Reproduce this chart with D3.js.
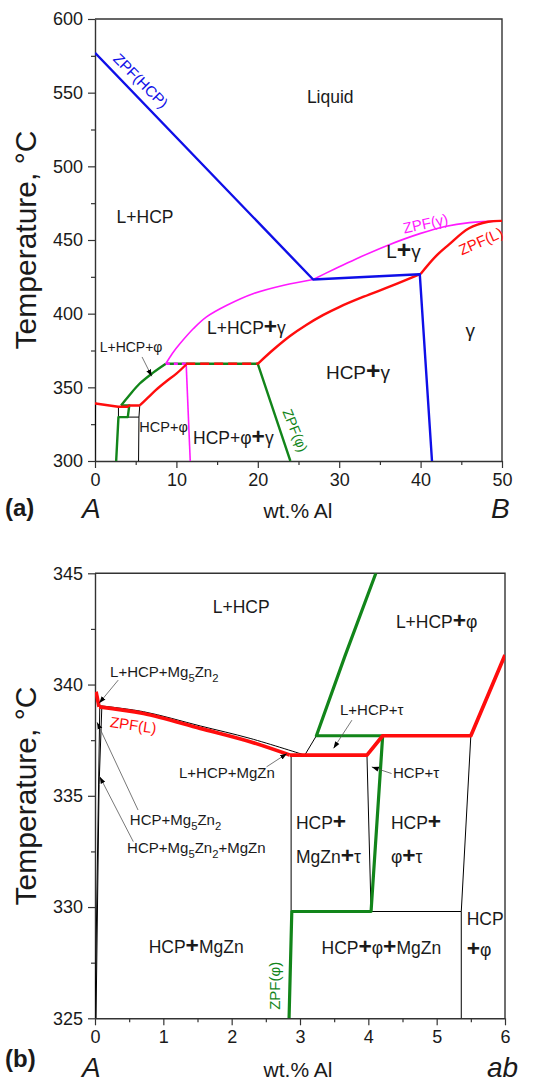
<!DOCTYPE html>
<html><head><meta charset="utf-8">
<script src="https://cdn.jsdelivr.net/npm/d3@7"></script>
<style>
html,body{margin:0;padding:0;background:#fff;}
svg{display:block;font-family:"Liberation Sans",Arial,Helvetica,sans-serif;}
</style></head><body>
<svg id="chart" width="541" height="1082"></svg>
<script>
// ---------- Panel (a): section A–B, 0–50 wt.% Al ----------
const aXTicks = [0, 10, 20, 30, 40, 50];
const aXMinor = [5, 15, 25, 35, 45];
const aYTicks = [300, 350, 400, 450, 500, 550, 600];
const aYMinor = [325, 375, 425, 475, 525, 575];

// ZPF(HCP) boundary (blue)
const aBlue = [[0, 577], [26.8, 423.2], [39.9, 426.8], [41.4, 300]];
// ZPF(gamma) boundaries (magenta)
const aMagLower = [[8.7, 366], [9.5, 373], [10.45, 379.7], [12.1, 389.9], [13.7, 397.8], [16.2, 405.7], [19.5, 413.7], [23.2, 419.3], [26.8, 423.2]];
const aMagUpper = [[26.8, 423.2], [29.5, 430.5], [32, 437], [36, 446.5], [40, 454.5], [43, 459.2], [46, 461.8], [50, 463]];
const aMagVert = [[11.2, 366], [11.7, 300]];
const aMagDash = [[8.7, 366], [11.2, 366]];
// ZPF(L) boundaries (red)
const aRedKinks = [[0, 339.6], [0.06, 339], [2.85, 336.8], [4.0, 336.8], [4.2, 337.7], [5.5, 337.7]];
const aRedRise = [[5.5, 337.7], [6.5, 343], [7.5, 348.3], [8.7, 353.8], [10, 359.3], [11.2, 365.5]];
const aRedDash = [[11.2, 366], [20, 366]];
const aRedUpper = [[20, 366], [22, 376], [24, 385], [26, 392.5], [28, 399], [30, 404.5], [33, 411.5], [36.5, 419], [40, 427]];
const aRedTop = [[40, 427], [41.8, 438.6], [43.4, 446.5], [45.9, 457.8], [48.3, 462.4], [50, 463]];
// ZPF(phi) boundaries (green)
const aGreenBox = [[2.6, 300], [2.88, 329.8], [4.03, 329.8], [4.21, 337.7], [3.2, 337.7]];
const aGreenCurve = [[3.2, 337.7], [4.2, 344.5], [5.5, 352.6], [7.1, 359.8], [8.7, 366]];
const aGreenFlat = [[8.7, 366], [20, 366], [24, 300]];
// thin phase boundaries (black)
const aBlack = [
  [[0.07, 339], [0, 300]],
  [[2.88, 336.8], [2.88, 329.8]],
  [[4.03, 329.8], [5.4, 329.8]],
  [[5.5, 337.7], [5.4, 329.8], [5.35, 300]]
];

// ---------- Panel (b): detail near A, 0–6 wt.% Al ----------
const bXTicks = [0, 1, 2, 3, 4, 5, 6];
const bXMinor = [0.5, 1.5, 2.5, 3.5, 4.5, 5.5];
const bYTicks = [325, 330, 335, 340, 345];
const bYMinor = [327.5, 332.5, 337.5, 342.5];

const bRedKink = [[0.015, 339.68], [0.06, 339.0]];
const bRedCurve = [[0.06, 339.0], [0.71, 338.7], [1.54, 338.03], [2.27, 337.43], [2.85, 336.83]];
const bRedSteps = [[2.85, 336.83], [3.98, 336.83], [4.21, 337.7], [5.5, 337.7], [6.0, 341.33]];
const bGreen = [[4.11, 345], [3.66, 341.3], [3.24, 337.7], [4.21, 337.7], [4.04, 329.8], [2.88, 329.8], [2.84, 325]];
const bBlackCurve = [[0.06, 339.05], [0.71, 338.78], [1.54, 338.14], [2.27, 337.58], [3.07, 336.83]];
const bBlack = [
  [[3.07, 336.83], [3.24, 337.7]],
  [[2.87, 336.83], [2.87, 329.8]],
  [[3.98, 336.83], [4.04, 329.8]],
  [[4.04, 329.8], [5.36, 329.8]],
  [[5.5, 337.7], [5.36, 329.8], [5.36, 325]],
  [[0.07, 339.0], [0.0, 325]],
  [[0.1, 339.0], [0.06, 335.5], [0.015, 325]]
];

// ---------- drawing ----------
const svg = d3.select("#chart");
const defs = svg.append("defs");
defs.append("marker").attr("id", "head")
  .attr("viewBox", "0 0 10 10").attr("refX", 10).attr("refY", 5)
  .attr("markerWidth", 7).attr("markerHeight", 7).attr("markerUnits", "userSpaceOnUse")
  .attr("orient", "auto")
  .append("path").attr("d", "M0,1.5 L10,5 L0,8.5 Z").attr("fill", "#000");

const COL = {blue: "#0f0fe8", mag: "#ff19ff", red: "#ff0d0d", green: "#12851a", ink: "#1a1a1a"};

// text with bold "+" ({+}) and subscripts (_5)
function rich(t, str, size) {
  const parts = str.split(/(\{\+\}|_\d)/).filter(s => s !== "");
  let lowered = false;
  parts.forEach(p => {
    let ts;
    if (p === "{+}") {
      ts = t.append("tspan").attr("font-weight", "bold").attr("font-size", size * 1.3).text("+");
    } else if (p[0] === "_") {
      ts = t.append("tspan").attr("font-size", size * 0.75).text(p[1]);
      if (!lowered) { ts.attr("dy", size * 0.32); lowered = true; }
      return;
    } else {
      ts = t.append("tspan").text(p);
    }
    if (lowered) { ts.attr("dy", -size * 0.32); lowered = false; }
  });
}

function panel(cfg) {
  const {x, y, xTicks, xMinor, yTicks, yMinor, id} = cfg;
  const [L, R] = x.range(), [B, T] = y.range();
  defs.append("clipPath").attr("id", id).append("rect")
    .attr("x", L).attr("y", T).attr("width", R - L).attr("height", B - T);
  const g = svg.append("g");

  const fmt = d3.format("d");
  g.append("g").attr("transform", `translate(${L},0)`)
    .call(d3.axisLeft(y).tickValues(yTicks).tickSize(7).tickPadding(5).tickFormat(fmt).tickSizeOuter(0));
  g.append("g").attr("transform", `translate(${L},0)`)
    .call(d3.axisLeft(y).tickValues(yMinor).tickSize(4).tickFormat("").tickSizeOuter(0))
    .select(".domain").remove();
  g.append("g").attr("transform", `translate(0,${B})`)
    .call(d3.axisBottom(x).tickValues(xTicks).tickSize(7).tickPadding(5).tickFormat(fmt).tickSizeOuter(0));
  g.append("g").attr("transform", `translate(0,${B})`)
    .call(d3.axisBottom(x).tickValues(xMinor).tickSize(4).tickFormat("").tickSizeOuter(0))
    .select(".domain").remove();
  g.selectAll(".domain").attr("stroke", "#333").attr("stroke-width", 1.4);
  g.selectAll(".tick line").attr("stroke", "#333").attr("stroke-width", 1.2);
  g.selectAll(".tick text").attr("font-size", 18).attr("fill", COL.ink)
    .attr("font-family", "Liberation Sans, Arial, sans-serif");

  // frame top and right
  g.append("path").attr("d", `M${L},${T}H${R}V${B}`).attr("fill", "none")
    .attr("stroke", "#333").attr("stroke-width", 1.4);

  const body = g.append("g").attr("clip-path", `url(#${id})`);
  return {g, body};
}

function drawLine(layer, x, y, pts, color, width, curve, dash) {
  const gen = d3.line().x(d => x(d[0])).y(d => y(d[1])).curve(curve || d3.curveLinear);
  const p = layer.append("path").attr("d", gen(pts)).attr("fill", "none")
    .attr("stroke", color).attr("stroke-width", width)
    .attr("stroke-linejoin", "round").attr("stroke-linecap", "butt");
  if (dash) p.attr("stroke-dasharray", dash);
  return p;
}

function label(layer, px, py, str, opt) {
  const o = Object.assign({size: 17.5, anchor: "middle", color: COL.ink, rot: 0, weight: "normal", style: "normal"}, opt || {});
  const t = layer.append("text")
    .attr("transform", `translate(${px},${py}) rotate(${o.rot})`)
    .attr("text-anchor", o.anchor).attr("dy", "0.35em")
    .attr("font-size", o.size).attr("fill", o.color)
    .attr("font-weight", o.weight).attr("font-style", o.style);
  rich(t, str, o.size);
  return t;
}

function pointer(layer, x, y, from, to) {
  layer.append("line")
    .attr("x1", x(from[0])).attr("y1", y(from[1]))
    .attr("x2", x(to[0])).attr("y2", y(to[1]))
    .attr("stroke", "#555").attr("stroke-width", 0.8)
    .attr("marker-end", "url(#head)");
}

const curve = d3.curveCatmullRom.alpha(0.5);

// ===== Panel (a) =====
const xA = d3.scaleLinear().domain([0, 50]).range([95, 502]);
const yA = d3.scaleLinear().domain([300, 600]).range([461, 19]);
const A = panel({x: xA, y: yA, xTicks: aXTicks, xMinor: aXMinor, yTicks: aYTicks, yMinor: aYMinor, id: "clipA"});
{
  const b = A.body;
  aBlack.forEach(s => drawLine(b, xA, yA, s, "#000", 1));
  drawLine(b, xA, yA, aGreenBox, COL.green, 2.4);
  drawLine(b, xA, yA, aGreenCurve, COL.green, 2.4, curve);
  drawLine(b, xA, yA, aGreenFlat, COL.green, 2.4);
  drawLine(b, xA, yA, aMagLower, COL.mag, 1.6, curve);
  drawLine(b, xA, yA, aMagUpper, COL.mag, 1.6, curve);
  drawLine(b, xA, yA, aMagVert, COL.mag, 1.6);
  drawLine(b, xA, yA, aMagDash, COL.mag, 2.4, null, "4,4");
  drawLine(b, xA, yA, aRedKinks, COL.red, 2.4);
  drawLine(b, xA, yA, aRedRise, COL.red, 2.4, curve);
  drawLine(b, xA, yA, aRedDash, COL.red, 2.4, null, "9,5");
  drawLine(b, xA, yA, aRedUpper, COL.red, 2.4, curve);
  drawLine(b, xA, yA, aRedTop, COL.red, 2.4, curve);
  drawLine(b, xA, yA, aBlue, COL.blue, 2.4);

  const t = A.g;
  label(t, xA(28.9), yA(547.2), "Liquid");
  label(t, xA(6.15), yA(465.7), "L+HCP");
  label(t, xA(37.9), yA(442.4), "L{+}γ", {size: 19});
  label(t, xA(46.1), yA(388.8), "γ", {size: 19});
  label(t, xA(18.6), yA(390.1), "L+HCP{+}γ");
  label(t, xA(32.3), yA(360.4), "HCP{+}γ", {size: 19});
  label(t, xA(4.43), yA(377.4), "L+HCP+φ", {size: 14});
  label(t, xA(8.42), yA(323.1), "HCP+φ", {size: 14.5});
  label(t, xA(17.0), yA(315.4), "HCP+φ{+}γ");
  label(t, xA(24.6), yA(320.8), "ZPF(φ)", {size: 14, color: COL.green, rot: 68});
  label(t, xA(5.62), yA(558.1), "ZPF(HCP)", {size: 15, color: COL.blue, rot: 45});
  label(t, xA(40.6), yA(461.2), "ZPF(γ)", {size: 15, color: COL.mag, rot: -12});
  label(t, xA(47.4), yA(449.2), "ZPF(L)", {size: 15, color: COL.red, rot: -24});
  pointer(t, xA, yA, [5.78, 370.6], [6.97, 357.5]);
}

// ===== Panel (b) =====
const xB = d3.scaleLinear().domain([0, 6]).range([95, 505]);
const yB = d3.scaleLinear().domain([325, 345]).range([1018.3, 573.3]);
const Bp = panel({x: xB, y: yB, xTicks: bXTicks, xMinor: bXMinor, yTicks: bYTicks, yMinor: bYMinor, id: "clipB"});
{
  const b = Bp.body;
  bBlack.forEach(s => drawLine(b, xB, yB, s, "#000", 1));
  drawLine(b, xB, yB, bBlackCurve, "#000", 1, curve);
  drawLine(b, xB, yB, bGreen, COL.green, 3.2);
  drawLine(b, xB, yB, bRedKink, COL.red, 3.7);
  drawLine(b, xB, yB, bRedCurve, COL.red, 3.7, curve);
  drawLine(b, xB, yB, bRedSteps, COL.red, 3.7);

  const t = Bp.g;
  label(t, xB(2.14), yB(343.5), "L+HCP");
  label(t, xB(5.0), yB(342.82), "L+HCP{+}φ");
  label(t, xB(0.22), yB(340.58), "L+HCP+Mg_5Zn_2", {size: 15, anchor: "start"});
  label(t, xB(0.56), yB(338.18), "ZPF(L)", {size: 15, color: COL.red, rot: 8});
  label(t, xB(4.05), yB(338.86), "L+HCP+τ", {size: 15});
  label(t, xB(1.93), yB(336.02), "L+HCP+MgZn", {size: 15});
  label(t, xB(4.36), yB(336.02), "HCP+τ", {size: 15, anchor: "start"});
  label(t, xB(0.51), yB(333.91), "HCP+Mg_5Zn_2", {size: 15, anchor: "start"});
  label(t, xB(0.47), yB(332.65), "HCP+Mg_5Zn_2+MgZn", {size: 15, anchor: "start"});
  label(t, xB(2.94), yB(333.78), "HCP{+}", {anchor: "start"});
  label(t, xB(2.94), yB(332.25), "MgZn{+}τ", {anchor: "start"});
  label(t, xB(4.33), yB(333.78), "HCP{+}", {anchor: "start"});
  label(t, xB(4.33), yB(332.25), "φ{+}τ", {anchor: "start"});
  label(t, xB(1.48), yB(328.2), "HCP{+}MgZn");
  label(t, xB(4.19), yB(328.16), "HCP{+}φ{+}MgZn");
  label(t, xB(5.44), yB(329.46), "HCP", {anchor: "start"});
  label(t, xB(5.44), yB(328.07), "{+}φ", {anchor: "start"});
  label(t, xB(2.63), yB(326.46), "ZPF(φ)", {size: 15, color: COL.green, rot: -90});

  pointer(t, xB, yB, [0.34, 340.2], [0.06, 339.16]);
  pointer(t, xB, yB, [0.63, 334.36], [0.03, 338.3]);
  pointer(t, xB, yB, [0.56, 332.94], [0.07, 335.86]);
  pointer(t, xB, yB, [2.51, 336.3], [2.81, 336.9]);
  pointer(t, xB, yB, [3.76, 338.4], [3.49, 337.13]);
  pointer(t, xB, yB, [4.34, 336.0], [4.05, 336.3]);
}

// ===== axis titles and panel captions =====
function title(px, py) {
  svg.append("text").attr("transform", `translate(${px},${py}) rotate(-90)`)
    .attr("text-anchor", "middle").attr("font-size", 30).attr("fill", COL.ink)
    .text("Temperature, °C");
}
title(36, 240);
title(36, 796);

function caption(baseA, baseB, tag, endLabel) {
  svg.append("text").attr("x", 5).attr("y", baseA).attr("font-size", 24)
    .attr("font-weight", "bold").attr("fill", COL.ink).text(tag);
  svg.append("text").attr("x", 82).attr("y", baseB).attr("font-size", 28)
    .attr("font-style", "italic").attr("fill", COL.ink).text("A");
  svg.append("text").attr("x", 298).attr("y", baseB).attr("font-size", 21)
    .attr("text-anchor", "middle").attr("fill", COL.ink).text("wt.% Al");
  svg.append("text").attr("x", endLabel.x).attr("y", baseB).attr("font-size", 28)
    .attr("font-style", "italic").attr("fill", COL.ink).text(endLabel.t);
}
caption(516, 518, "(a)", {x: 491, t: "B"});
caption(1067, 1077, "(b)", {x: 487, t: "ab"});
</script>
</body></html>
